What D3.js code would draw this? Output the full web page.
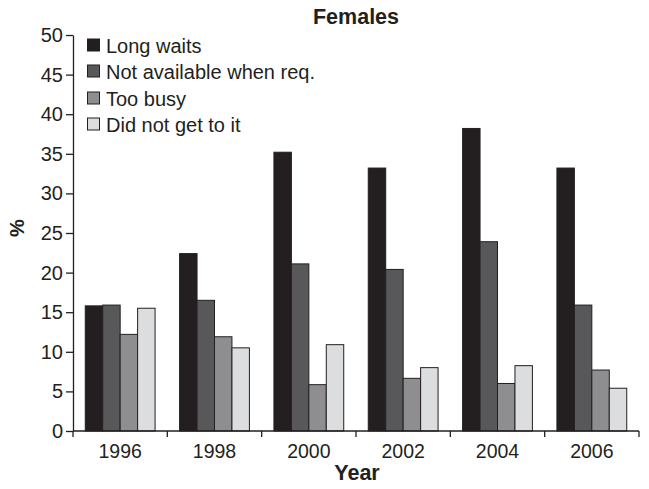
<!DOCTYPE html>
<html><head><meta charset="utf-8">
<script src="https://cdn.jsdelivr.net/npm/d3@7"></script>
<style>body{margin:0;background:#fff;} text{font-family:"Liberation Sans",Arial,sans-serif;}</style>
</head><body>
<svg id="c" width="649" height="489"></svg>
<script>
const years = ["1996","1998","2000","2002","2004","2006"];
const seriesNames = ["Long waits","Not available when req.","Too busy","Did not get to it"];
const longWaits = [15.8, 22.4, 35.2, 33.2, 38.2, 33.2];
const notAvailable = [15.9, 16.5, 21.1, 20.4, 23.9, 15.9];
const tooBusy = [12.2, 11.9, 5.85, 6.65, 6.0, 7.7];
const didNotGet = [15.5, 10.5, 10.9, 8.0, 8.25, 5.4];
const yTicks = [0,5,10,15,20,25,30,35,40,45,50];
const colors = ["#231f20","#58585a","#8e8e90","#dcdddf"];

const series = [longWaits, notAvailable, tooBusy, didNotGet];
const svg = d3.select("#c");
const L = 73, R = 639, T = 35, B = 431;

const x0 = d3.scaleBand().domain(years).range([L, R]).paddingInner(0.26).paddingOuter(0.13);
const x1 = d3.scaleBand().domain(seriesNames).range([0, x0.bandwidth()]);
const y = d3.scaleLinear().domain([0, 50]).range([B, T]);

// bars
years.forEach((yr, i) => {
  const g = svg.append("g").attr("transform", `translate(${x0(yr)},0)`);
  seriesNames.forEach((s, j) => {
    g.append("rect")
      .attr("x", x1(s)).attr("width", x1.bandwidth())
      .attr("y", y(series[j][i])).attr("height", B - y(series[j][i]))
      .attr("fill", colors[j]).attr("stroke", "#231f20").attr("stroke-width", 1);
  });
});

// y axis
const yAxis = svg.append("g").attr("transform", `translate(${L},0)`)
  .call(d3.axisLeft(y).tickValues(yTicks).tickSize(7).tickSizeOuter(0).tickPadding(3));
yAxis.selectAll("text").attr("font-size", 20).attr("fill", "#231f20").attr("font-family", "Liberation Sans, Arial, sans-serif");
yAxis.selectAll("line,path").attr("stroke", "#231f20").attr("stroke-width", 1.3);

// x axis with boundary ticks
const xAxisG = svg.append("g");
xAxisG.append("line").attr("x1", L).attr("x2", R).attr("y1", B).attr("y2", B).attr("stroke", "#231f20").attr("stroke-width", 1.3);
const step = x0.step();
const bounds = [L].concat(years.map(yr => x0(yr) - x0.paddingOuter()*step + step));
bounds.forEach(bx => {
  xAxisG.append("line").attr("x1", bx).attr("x2", bx).attr("y1", B).attr("y2", B + 6).attr("stroke", "#231f20").attr("stroke-width", 1.3);
});
years.forEach(yr => {
  xAxisG.append("text").attr("x", x0(yr) + x0.bandwidth()/2).attr("y", 458)
    .attr("text-anchor", "middle").attr("font-size", 19.5).attr("fill", "#231f20").text(yr);
});

// titles
svg.append("text").attr("x", 356).attr("y", 24).attr("text-anchor", "middle")
  .attr("font-size", 21.5).attr("font-weight", "bold").attr("fill", "#231f20").text("Females");
svg.append("text").attr("x", 357).attr("y", 480).attr("text-anchor", "middle")
  .attr("font-size", 21.5).attr("font-weight", "bold").attr("fill", "#231f20").text("Year");
svg.append("text").attr("transform", "translate(24,228) rotate(-90)").attr("text-anchor", "middle")
  .attr("font-size", 20).attr("font-weight", "bold").attr("fill", "#231f20").text("%");

// legend
const legY = [45, 71, 98, 124];
seriesNames.forEach((s, j) => {
  svg.append("rect").attr("x", 87.5).attr("y", legY[j] - 6).attr("width", 12).attr("height", 12)
    .attr("fill", colors[j]).attr("stroke", "#231f20").attr("stroke-width", 1);
  svg.append("text").attr("x", 106).attr("y", legY[j] + 8).attr("font-size", 20)
    .attr("fill", "#231f20").text(s);
});
</script>
</body></html>
